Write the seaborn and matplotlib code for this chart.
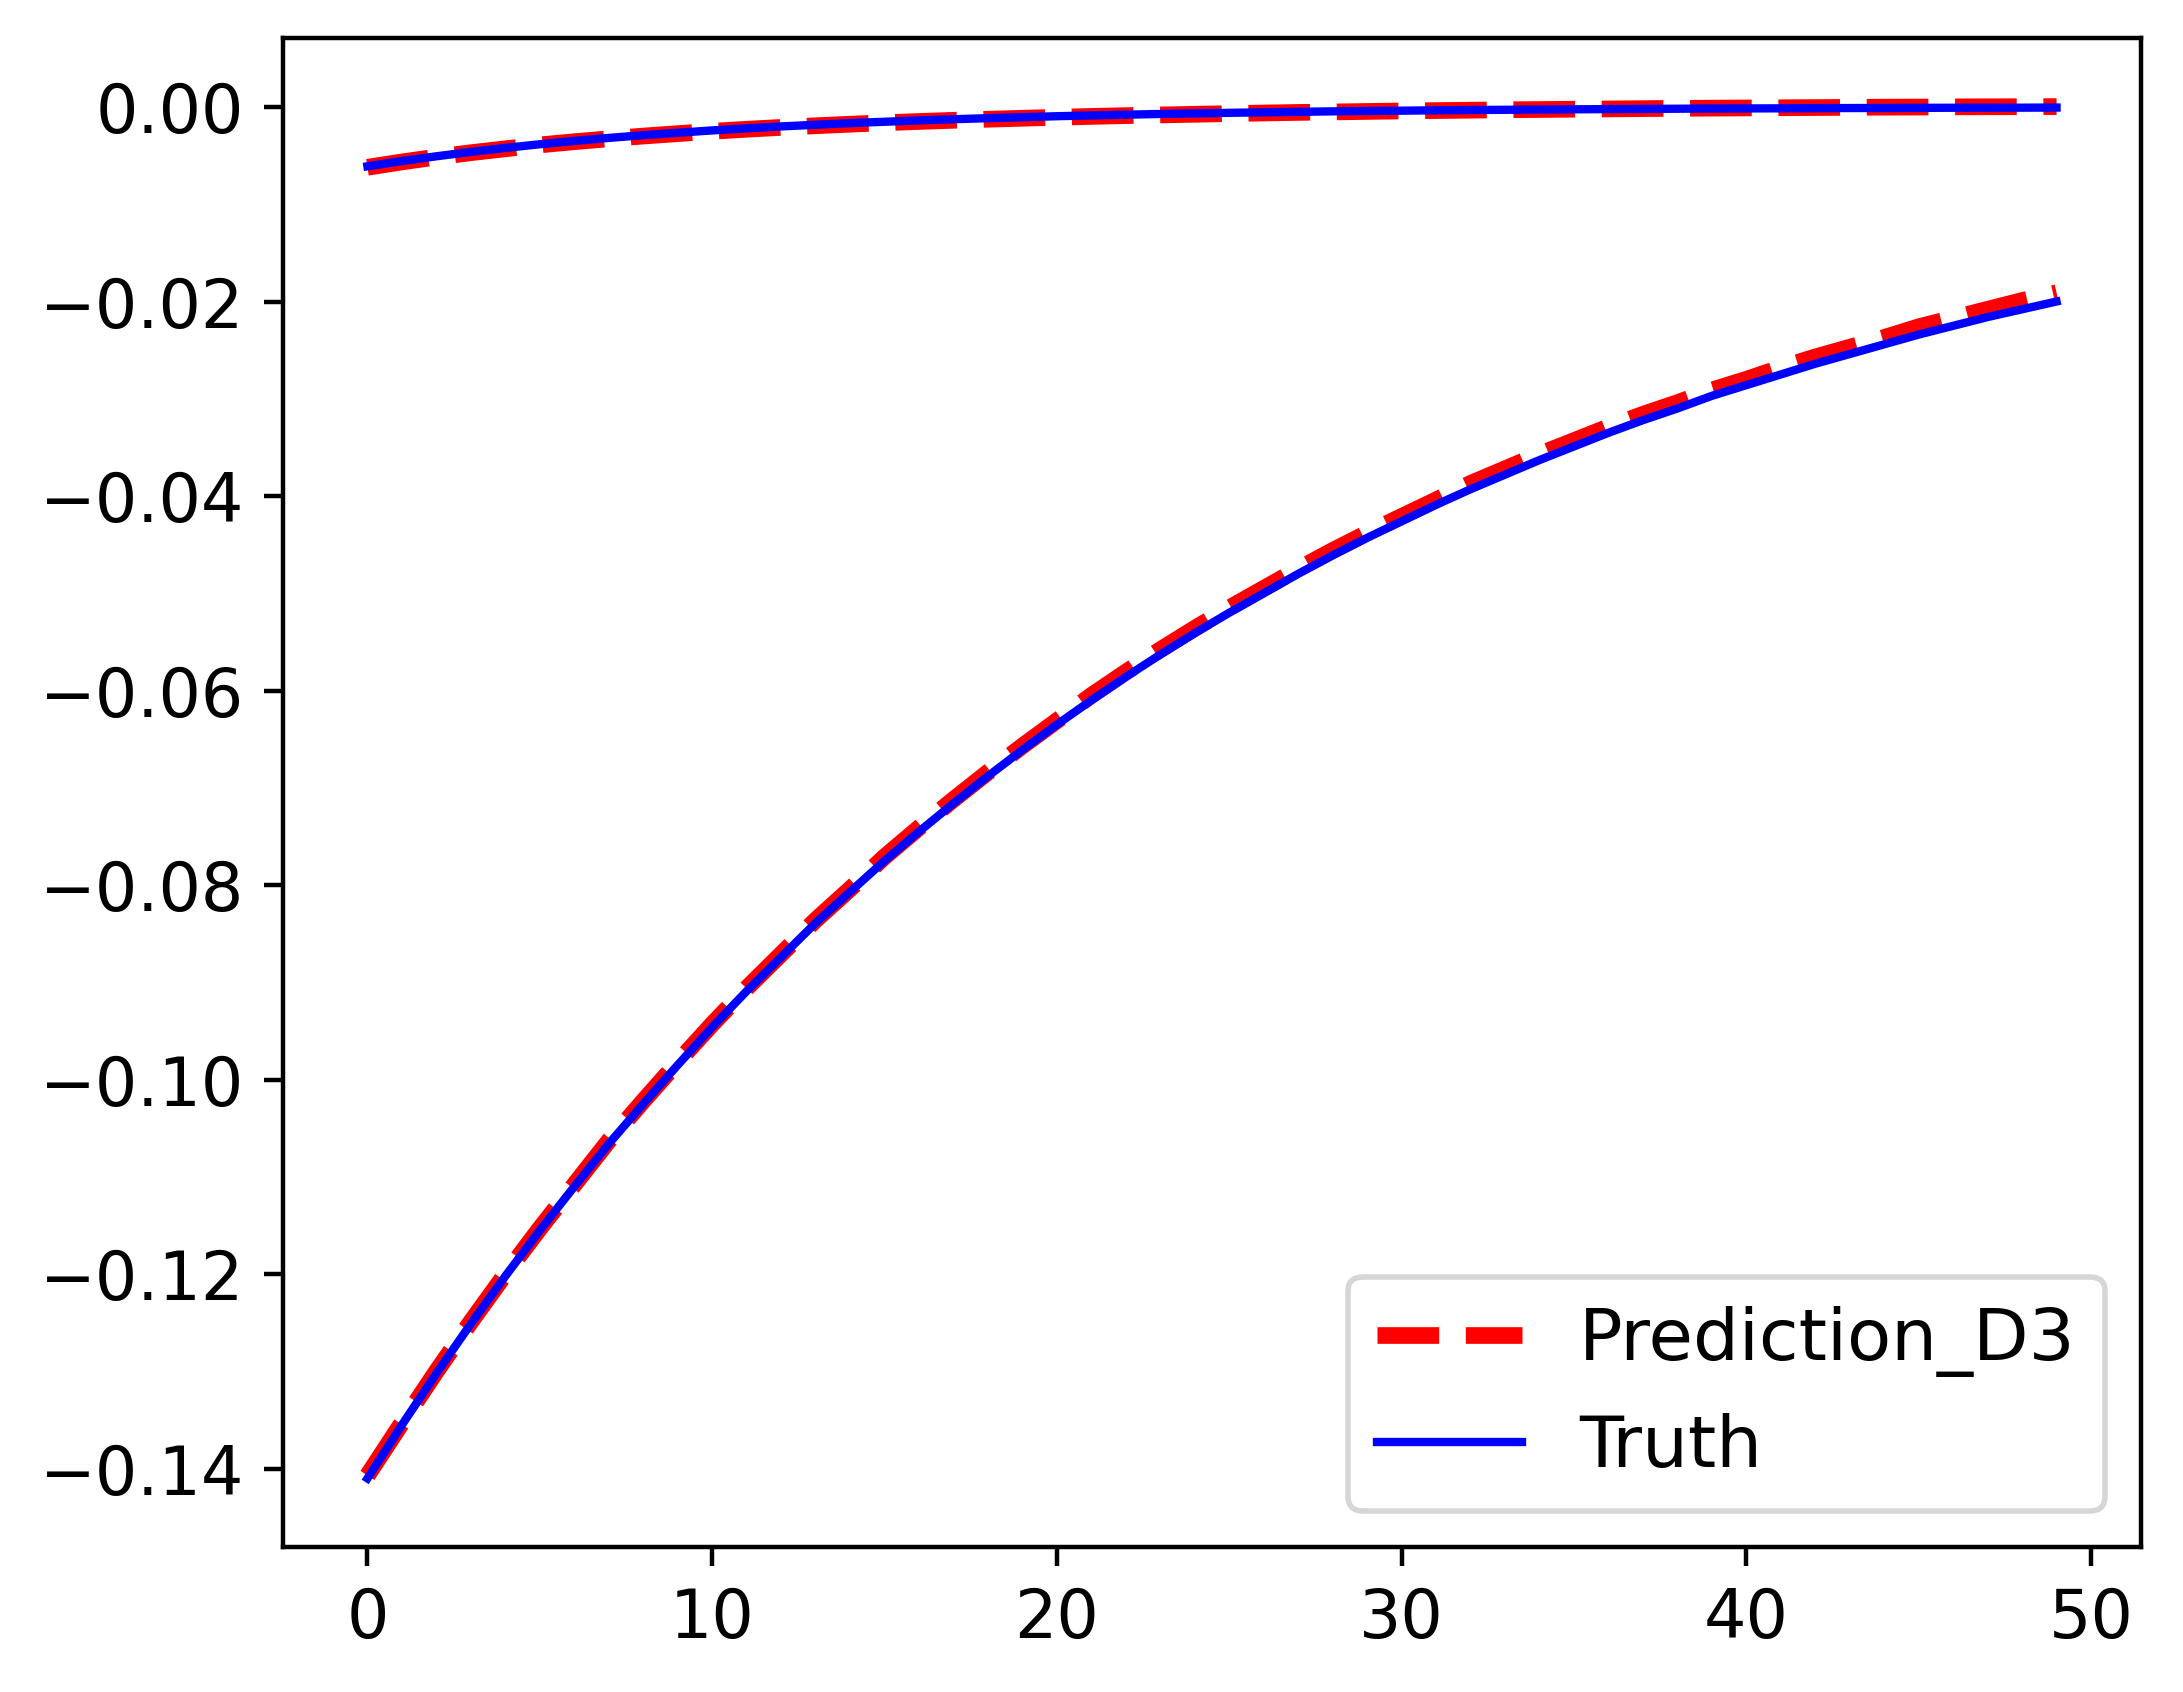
import matplotlib
matplotlib.use("Agg")
import matplotlib.pyplot as plt
import seaborn as sns
import numpy as np
import pandas as pd

steps = list(range(50))

truth_low = [-0.1410, -0.1355, -0.1302, -0.1251, -0.1202, -0.1155, -0.1110, -0.1066, -0.1025, -0.0985,
             -0.0946, -0.0909, -0.0874, -0.0839, -0.0807, -0.0775, -0.0745, -0.0716, -0.0688, -0.0661,
             -0.0635, -0.0610, -0.0586, -0.0563, -0.0541, -0.0520, -0.0500, -0.0480, -0.0461, -0.0443,
             -0.0426, -0.0409, -0.0393, -0.0378, -0.0363, -0.0349, -0.0335, -0.0322, -0.0310, -0.0297,
             -0.0286, -0.0275, -0.0264, -0.0254, -0.0244, -0.0234, -0.0225, -0.0216, -0.0208, -0.0200]

pred_low = [-0.1407, -0.1353, -0.1300, -0.1249, -0.1200, -0.1153, -0.1108, -0.1063, -0.1022, -0.0982,
            -0.0943, -0.0906, -0.0871, -0.0836, -0.0804, -0.0771, -0.0741, -0.0712, -0.0684, -0.0657,
            -0.0631, -0.0605, -0.0581, -0.0558, -0.0536, -0.0515, -0.0495, -0.0475, -0.0456, -0.0438,
            -0.0421, -0.0404, -0.0387, -0.0372, -0.0357, -0.0343, -0.0329, -0.0316, -0.0304, -0.0291,
            -0.0280, -0.0268, -0.0257, -0.0247, -0.0237, -0.0226, -0.0217, -0.0208, -0.0199, -0.0191]

truth_up = [-0.00610, -0.00556, -0.00507, -0.00462, -0.00421, -0.00383, -0.00349, -0.00318, -0.00290, -0.00265,
            -0.00241, -0.00220, -0.00200, -0.00183, -0.00166, -0.00152, -0.00138, -0.00126, -0.00115, -0.00105,
            -0.00095, -0.00087, -0.00079, -0.00072, -0.00066, -0.00060, -0.00055, -0.00050, -0.00045, -0.00041,
            -0.00038, -0.00034, -0.00031, -0.00029, -0.00026, -0.00024, -0.00022, -0.00020, -0.00018, -0.00016,
            -0.00015, -0.00014, -0.00012, -0.00011, -0.00010, -0.00009, -0.00008, -0.00008, -0.00007, -0.00006]

pred_up = [-0.00620, -0.00565, -0.00515, -0.00470, -0.00430, -0.00390, -0.00357, -0.00327, -0.00299, -0.00274,
           -0.00250, -0.00229, -0.00210, -0.00193, -0.00177, -0.00162, -0.00149, -0.00137, -0.00126, -0.00116,
           -0.00106, -0.00097, -0.00089, -0.00082, -0.00075, -0.00068, -0.00062, -0.00056, -0.00051, -0.00046,
           -0.00041, -0.00037, -0.00033, -0.00029, -0.00026, -0.00023, -0.00020, -0.00017, -0.00014, -0.00012,
           -0.00010, -0.00008, -0.00006, -0.00004, -0.00002, -0.00001, 0.00001, 0.00002, 0.00003, 0.00004]

DPI = 400
fig = plt.figure(figsize=(2183 / DPI, 1692 / DPI), dpi=DPI)
ax = fig.add_axes([283 / 2183, 1 - 1547 / 1692, (2141 - 283) / 2183, (1547 - 38) / 1692])

sns.lineplot(x=steps, y=pred_up, ax=ax, color="red", linestyle="--", linewidth=3, label="Prediction_D3")
sns.lineplot(x=steps, y=pred_low, ax=ax, color="red", linestyle="--", linewidth=3)
sns.lineplot(x=steps, y=truth_up, ax=ax, color="blue", linewidth=1.5, label="Truth")
sns.lineplot(x=steps, y=truth_low, ax=ax, color="blue", linewidth=1.5)

ax.tick_params(labelsize=12)
ax.set_xlabel("")
ax.set_ylabel("")
ax.legend(loc="lower right", fontsize=13)

fig.savefig("out.png", dpi=DPI)
